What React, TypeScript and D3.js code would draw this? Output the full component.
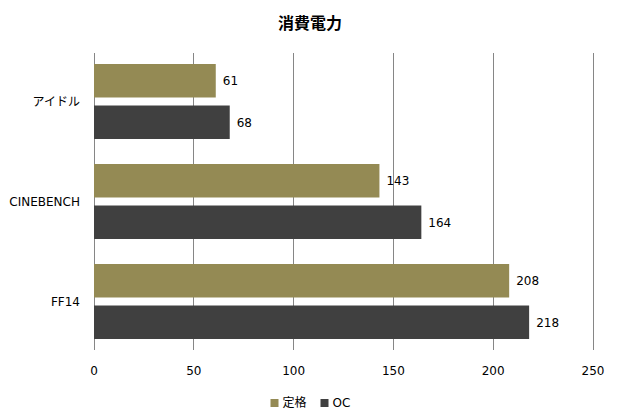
import React from "react";
import * as d3 from "d3";

const categories = ["アイドル", "CINEBENCH", "FF14"];
const seriesNames = ["定格", "OC"];
const teikaku = [61, 143, 208];
const oc = [68, 164, 218];
const xTicks = [0, 50, 100, 150, 200, 250];
const colors = ["#948a54", "#404040"];

export default function App() {
  const W = 620, H = 420;
  const left = 94, right = 593, top = 53, bottom = 350;
  const x = d3.scaleLinear().domain([0, 250]).range([left, right]);
  const y0 = d3.scaleBand().domain(categories).range([top, bottom]).paddingInner(0.25).paddingOuter(0.11);
  const y1 = d3.scaleBand().domain(seriesNames).range([0, y0.bandwidth()]).paddingInner(0.193);
  const values = [teikaku, oc];
  const font = "Verdana, 'DejaVu Sans', sans-serif";
  return (
    <svg width={W} height={H} style={{ position: "absolute", left: 0, top: 0, background: "#fff" }}>
      <text x={310} y={29} textAnchor="middle" fontFamily="'Noto Sans CJK JP', sans-serif" fontWeight="bold" fontSize={16} fill="#000">消費電力</text>
      {xTicks.map((t) => (
        <g key={t}>
          <line x1={x(t)} x2={x(t)} y1={top} y2={bottom} stroke="#868686" strokeWidth={1} shapeRendering="crispEdges" />
          <text x={x(t)} y={375} textAnchor="middle" fontFamily={font} fontSize={12} fill="#000">{t}</text>
        </g>
      ))}
      {categories.map((c, i) => (
        <g key={c}>
          <text x={80} y={(y0(c) as number) + y0.bandwidth() / 2 + 4} textAnchor="end" fontFamily={i === 0 ? "'Noto Sans CJK JP', sans-serif" : font} fontSize={12} fill="#000">{c}</text>
          {seriesNames.map((s, j) => {
            const yy = (y0(c) as number) + (y1(s) as number);
            const v = values[j][i];
            return (
              <g key={s}>
                <rect x={x(0)} y={yy} width={x(v) - x(0)} height={y1.bandwidth()} fill={colors[j]} />
                <text x={x(v) + 7} y={yy + y1.bandwidth() / 2 + 4.5} fontFamily={font} fontSize={12} fill="#000">{v}</text>
              </g>
            );
          })}
        </g>
      ))}
      {seriesNames.map((s, j) => {
        const lx = j === 0 ? 270.5 : 320.5;
        return (
          <g key={s}>
            <rect x={lx} y={399} width={8} height={8} fill={colors[j]} />
            <text x={lx + 12} y={407} fontFamily={j === 0 ? "'Noto Sans CJK JP', sans-serif" : font} fontSize={12} fill="#000">{s}</text>
          </g>
        );
      })}
    </svg>
  );
}
